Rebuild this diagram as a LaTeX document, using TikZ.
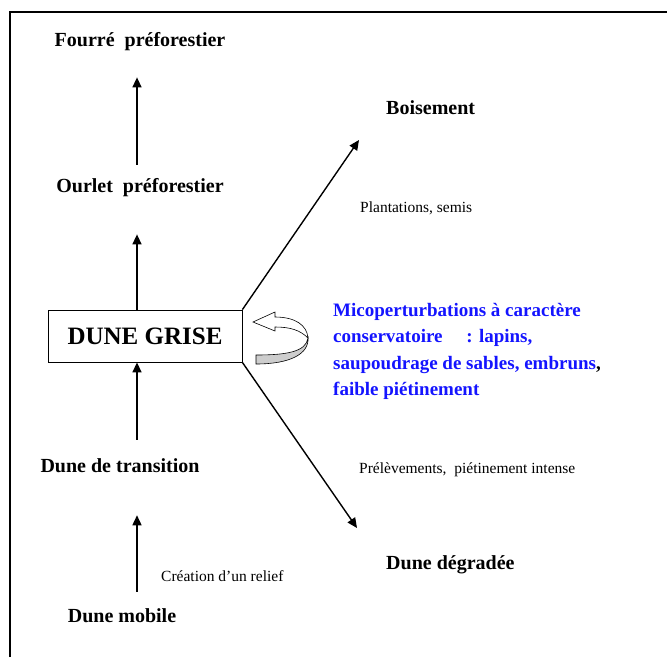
\documentclass[tikz,border=0pt]{standalone}
\usepackage{fontspec}
\setmainfont{Liberation Serif}
\usepackage{xcolor}
\usetikzlibrary{arrows.meta,positioning,calc}
\definecolor{microblue}{RGB}{20,20,255}
\definecolor{ribbongray}{RGB}{205,205,205}

\begin{document}
\begin{tikzpicture}[>={Triangle[length=10pt,width=9pt]},x=1pt,y=-1pt]
  \tikzstyle{stage}=[font=\bfseries\fontsize{20}{22}\selectfont,inner sep=1pt]
  \tikzstyle{action}=[font=\fontsize{15.5}{17}\selectfont,inner sep=1pt,anchor=west]
  \tikzstyle{flow}=[->,line width=1.4pt]
  \useasboundingbox (0,0) rectangle (667,657);
  % cadre
  \draw[line width=1.2pt] (10,657) -- (10,12) -- (667,12);
  % stades
  \node[stage] (fourre) at (140,42) {Fourr\'e\ \ pr\'eforestier};
  \node[stage] (ourlet) at (140,188) {Ourlet\ \ pr\'eforestier};
  \node[draw,line width=0.8pt,minimum width=194pt,minimum height=52pt,
        font=\bfseries\fontsize{25}{27}\selectfont] (grise) at (145,336) {DUNE GRISE};
  \node[stage] (transition) at (120,466) {Dune de transition};
  \node[stage] (mobile) at (122,616) {Dune mobile};
  \node[stage,anchor=west] (boisement) at (385,108) {Boisement};
  \node[stage,anchor=west] (degradee) at (385,565) {Dune d\'egrad\'ee};
  \coordinate (axis) at (137,0);
  \coordinate (boisend) at (359,140);
  \coordinate (degend) at (357,528);
  % fleches
  \draw[flow,shorten <=13pt,shorten >=25pt] (ourlet.north -| axis) -- (fourre.south -| axis);
  \draw[flow,shorten >=36pt] (grise.north -| axis) -- (ourlet.south -| axis);
  \draw[flow,shorten <=18pt] (transition.north -| axis) -- (grise.south -| axis);
  \draw[flow,shorten <=16pt,shorten >=41pt] (mobile.north -| axis) -- (transition.south -| axis);
  \draw[flow] (grise.north east) -- (boisend);
  \draw[flow] (grise.south east) -- (degend);
  % actions
  \node[action] (plantations) at (359,208) {Plantations, semis};
  \node[action] (prelevements) at (358,470) {Pr\'el\`evements,\ \ pi\'etinement intense};
  \node[action] (relief) at (160,576) {Cr\'eation d'un relief};
  % microperturbations
  \node[anchor=north west,align=left,inner sep=0pt,text=microblue,
        font=\bfseries\fontsize{19}{26.5}\selectfont] (micro) at (333,303)
    {Micoperturbations \`a caract\`ere\\
     conservatoire\quad\ : lapins,\\
     saupoudrage de sables, embruns\textcolor{black}{,}\\
     faible pi\'etinement};
  % fleche courbe
  \fill[ribbongray,draw=black,line width=0.6pt] (308,338) .. controls (306,352) and (286,355) .. (256,355)
    -- (256,364) .. controls (290,364) and (309,354) .. (308,338) -- cycle;
  \fill[white,draw=black,line width=0.6pt] (253,322) -- (275,312) -- (275,317)
    .. controls (295,317) and (307,325) .. (308,338)
    .. controls (300,330) and (290,327) .. (275,327) -- (275,331) -- cycle;
\end{tikzpicture}
\end{document}
